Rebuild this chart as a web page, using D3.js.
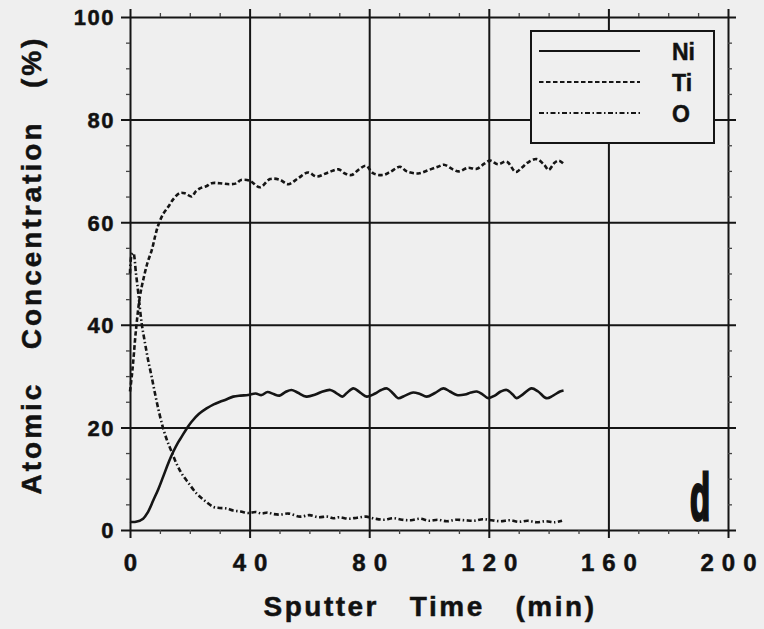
<!DOCTYPE html>
<html>
<head>
<meta charset="utf-8">
<script src="https://cdn.jsdelivr.net/npm/d3@7"></script>
<style>
  body { margin: 0; background: #efefef; }
  svg text { font-family: "Liberation Sans", Arial, sans-serif; font-weight: bold; fill: #111; white-space: pre; }
</style>
</head>
<body>
<div id="chart"></div>
<script>

// sputter time (min) and atomic concentration (%)
const niTime = [0, 2, 4.4, 6, 7.8, 9.5, 11.1, 13, 14.5, 16, 17.3, 19, 20.6, 23, 25.6, 28, 30.1, 32, 34.5, 37, 39.5, 42, 44, 46, 48, 50, 52, 54, 56, 59, 62, 64, 67, 69, 71, 72.5, 74.7, 77, 79.2, 82, 84, 86, 88, 89.7, 92, 94.7, 97, 99.2, 102, 104.8, 107, 109.3, 112, 114, 116, 118, 119.8, 122, 124, 126, 128, 129.3, 131.5, 134.3, 136.5, 139.3, 141.5, 143.8, 145];
const niValue = [1.6, 1.6, 2.2, 3.5, 5.8, 8, 10.4, 13.3, 15.3, 17, 18.2, 19.8, 21.1, 22.6, 23.7, 24.5, 25, 25.4, 26, 26.2, 26.3, 26.6, 26.3, 26.9, 26.5, 26.2, 26.9, 27.3, 26.8, 26.0, 26.4, 26.9, 27.3, 26.7, 26.0, 26.7, 27.6, 26.8, 26.0, 26.6, 27.3, 27.6, 26.6, 25.7, 26.2, 26.8, 26.5, 26.0, 26.7, 27.6, 27.0, 26.3, 26.4, 26.8, 27.0, 26.4, 25.7, 26.2, 27.0, 27.3, 26.4, 25.7, 26.5, 27.6, 27.0, 25.7, 26.2, 27.0, 27.2];

const tiTime = [0, 0.6, 1.1, 2, 3.3, 4.4, 5.8, 7.3, 8.5, 9.5, 11, 12.8, 14.5, 16.7, 18.5, 20.6, 22, 23.4, 25.5, 27.3, 30, 33.4, 35.7, 37, 40, 43.5, 46.8, 50, 52.9, 56.3, 59.6, 62.4, 66.3, 69.7, 71.9, 74.1, 76.4, 78.9, 81.4, 84.7, 87, 90.3, 92.6, 96.4, 100, 103, 105, 108, 110, 113, 116, 118.5, 120.5, 123, 126, 129, 131, 133, 136, 138.5, 140, 142, 143.5, 145];
const tiValue = [27, 30, 33, 39, 45.5, 48.7, 52, 54.6, 57.5, 59.5, 61.5, 63, 64.5, 65.7, 65.6, 65, 66, 66.6, 67, 67.6, 67.6, 67.4, 67.6, 68.2, 68.1, 66.8, 68.4, 68.3, 67.4, 68.6, 69.7, 68.9, 69.7, 70.3, 69.5, 69.2, 70.2, 71, 69.5, 69.2, 69.8, 70.8, 69.9, 69.5, 70.2, 70.8, 71.2, 70.3, 69.9, 70.6, 70.4, 71.4, 72.0, 71.3, 71.8, 69.8, 70.6, 71.6, 72.3, 71.2, 70.2, 71.6, 72.0, 71.4];

const oTime = [0, 0.5, 1.1, 2, 2.8, 3.9, 5, 6.1, 7.2, 8.4, 9.7, 11.1, 12.5, 13.9, 15.5, 17.3, 19.5, 22.3, 25, 27.9, 30, 32.3, 34.5, 37, 39.6, 42, 44, 46, 48, 50, 53, 56.9, 60, 63, 66, 68, 70, 73, 76, 79, 82, 85, 88, 91, 94, 97, 100, 103, 106, 109, 112, 115, 118, 121, 124, 127, 130, 133, 136, 139, 142, 144.5];
const oValue = [50, 53.5, 54, 50, 46, 40.3, 36.5, 33, 30, 26.5, 23, 19.8, 17.3, 15.3, 13, 11, 9.2, 7.1, 5.7, 4.5, 4.3, 4.2, 3.8, 3.6, 3.3, 3.5, 3.2, 3.4, 3.1, 3.0, 3.2, 2.6, 2.9, 2.5, 2.6, 2.3, 2.5, 2.2, 2.4, 2.6, 2.2, 2.0, 2.3, 2.0, 1.9, 2.2, 1.8, 2.0, 1.7, 2.0, 1.9, 1.8, 2.1, 1.9, 1.7, 1.9, 1.6, 1.8, 1.5, 1.7, 1.5, 1.8];

const xMajor = [0, 40, 80, 120, 160, 200];
const yMajor = [0, 20, 40, 60, 80, 100];
const xMinor = d3.range(0, 201, 10).filter(v => v % 40 !== 0);
const yMinor = d3.range(0, 101, 5).filter(v => v % 20 !== 0);

const seriesNames = ["Ni", "Ti", "O"];
const seriesDash = ["none", "4.5,2.5", "5,2.5,1.5,2.5"];

const W = 764, H = 629;
const ink = "#151515";

const x = d3.scaleLinear().domain([0, 200]).range([130, 728]);
const y = d3.scaleLinear().domain([0, 100]).range([530, 17]);

const svg = d3.select("#chart").append("svg")
    .attr("width", W)
    .attr("height", H);

svg.append("rect").attr("width", W).attr("height", H).attr("fill", "#efefef");

// major grid, running a little past the frame on every side
svg.append("g")
    .attr("transform", `translate(0, ${y(0) + 8})`)
    .call(d3.axisBottom(x).tickValues(xMajor).tickSize(-(y(0) - y(100) + 16)).tickFormat(""))
    .call(g => g.select(".domain").remove());

svg.append("g")
    .attr("transform", `translate(${x(0) - 9}, 0)`)
    .call(d3.axisLeft(y).tickValues(yMajor).tickSize(-(x(200) - x(0) + 17)).tickFormat(""))
    .call(g => g.select(".domain").remove());

svg.selectAll(".tick line").attr("stroke", ink).attr("stroke-width", 2);

// small outward minor ticks
const minor = svg.append("g").attr("class", "minor");
minor.append("g").attr("transform", `translate(0, ${y(0)})`)
    .call(d3.axisBottom(x).tickValues(xMinor).tickSize(4).tickFormat(""));
minor.append("g").attr("transform", `translate(0, ${y(100)})`)
    .call(d3.axisTop(x).tickValues(xMinor).tickSize(4).tickFormat(""));
minor.append("g").attr("transform", `translate(${x(0)}, 0)`)
    .call(d3.axisLeft(y).tickValues(yMinor).tickSize(4).tickFormat(""));
minor.append("g").attr("transform", `translate(${x(200)}, 0)`)
    .call(d3.axisRight(y).tickValues(yMinor).tickSize(4).tickFormat(""));
minor.selectAll(".domain").remove();
minor.selectAll(".tick line").attr("stroke", "#444").attr("stroke-width", 1.3);

// tick labels
svg.append("g")
    .attr("transform", `translate(4, ${y(0) + 24})`)
    .call(d3.axisBottom(x).tickValues(xMajor).tickSize(0).tickPadding(0))
    .call(g => g.select(".domain").remove())
    .selectAll("text")
    .attr("font-size", 24)
    .attr("font-family", null)
    .attr("stroke", ink).attr("stroke-width", 0.5)
    .style("letter-spacing", "8px");

svg.append("g")
    .attr("transform", `translate(115, 0)`)
    .call(d3.axisLeft(y).tickValues(yMajor).tickSize(0).tickPadding(0))
    .call(g => g.select(".domain").remove())
    .selectAll("text")
    .attr("font-size", 22)
    .attr("font-family", null)
    .attr("dy", "0.36em")
    .attr("stroke", ink).attr("stroke-width", 0.5)
    .style("letter-spacing", "1.5px");

// the three profiles
const series = [
    { t: niTime, v: niValue },
    { t: tiTime, v: tiValue },
    { t: oTime, v: oValue }
];

const line = d3.line()
    .x(d => x(d[0]))
    .y(d => y(d[1]))
    .curve(d3.curveCatmullRom.alpha(0.5));

series.forEach((s, i) => {
    svg.append("path")
        .datum(s.t.map((t, k) => [t, s.v[k]]))
        .attr("fill", "none")
        .attr("stroke", ink)
        .attr("stroke-width", 2.6)
        .attr("stroke-dasharray", seriesDash[i])
        .attr("d", line);
});

// legend
const legend = svg.append("g");
legend.append("rect")
    .attr("x", 531).attr("y", 31)
    .attr("width", 183).attr("height", 112)
    .attr("fill", "#efefef")
    .attr("stroke", ink)
    .attr("stroke-width", 2);

const legendY = [51, 82, 113];
seriesNames.forEach((name, i) => {
    legend.append("line")
        .attr("x1", 539).attr("x2", 640)
        .attr("y1", legendY[i]).attr("y2", legendY[i])
        .attr("stroke", ink)
        .attr("stroke-width", 2.2)
        .attr("stroke-dasharray", seriesDash[i]);
    legend.append("text")
        .attr("x", 672)
        .attr("y", legendY[i] + 9)
        .attr("font-size", 23)
        .attr("stroke", ink).attr("stroke-width", 0.5)
        .text(name);
});

// panel letter
svg.append("text")
    .attr("transform", "translate(690, 520) scale(0.5, 1)")
    .attr("font-size", 66)
    .attr("stroke", ink)
    .attr("stroke-width", 3)
    .text("d");

// axis titles
svg.append("text")
    .attr("x", (x(0) + x(200)) / 2 + 1)
    .attr("y", 616)
    .attr("text-anchor", "middle")
    .attr("font-size", 28)
    .attr("stroke", ink).attr("stroke-width", 0.5)
    .style("letter-spacing", "2.5px")
    .text("Sputter   Time   (min)");

svg.append("text")
    .attr("transform", `translate(41, 265) rotate(-90)`)
    .attr("text-anchor", "middle")
    .attr("font-size", 28)
    .attr("stroke", ink).attr("stroke-width", 0.5)
    .style("letter-spacing", "3px")
    .text("Atomic   Concentration   (%)");

</script>
</body>
</html>
